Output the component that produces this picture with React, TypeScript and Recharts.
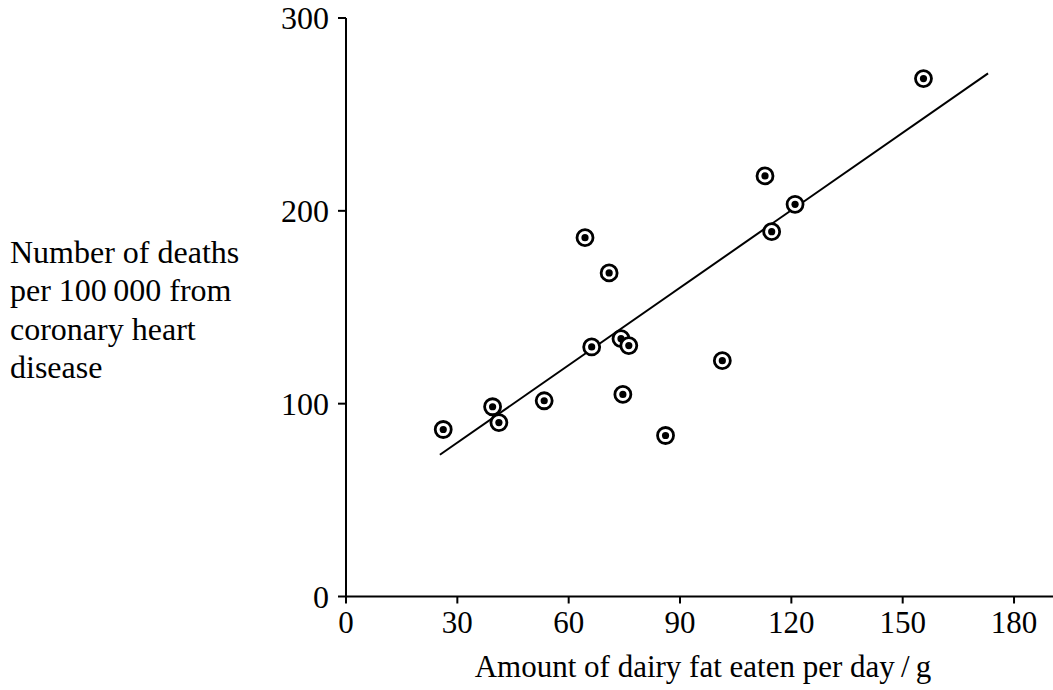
import { ReferenceLine, Scatter, ScatterChart, XAxis, YAxis } from "recharts";

// dairy fat (g per day) and deaths per 100 000, one entry per country
const fatGrams = [26.2, 39.5, 41.2, 53.4, 64.4, 66.2, 70.9, 74.1, 76.2, 74.6, 86.1, 101.4, 112.9, 114.7, 121.0, 155.6];
const deaths = [86.6, 98.4, 90.2, 101.5, 186.1, 129.4, 167.8, 133.7, 130.1, 104.8, 83.5, 122.3, 218.1, 189.2, 203.4, 268.6];

// line of best fit, drawn between these two ends
const fitX = [25.3, 173.0];
const fitY = [73.5, 271.3];

const xTicks = [0, 30, 60, 90, 120, 150, 180];
const yTicks = [0, 100, 200, 300];
const yLabelLines = ["Number of deaths", "per 100\u2009000 from", "coronary heart", "disease"];
const xLabel = "Amount of dairy fat eaten per day\u2009/\u2009g";

const FONT = '"Liberation Serif", "Times New Roman", serif';

const points = fatGrams.map((x, i) => ({ x, y: deaths[i] }));

const Ringed = (props: any) => {
  const { cx, cy } = props;
  if (cx == null || cy == null) return null;
  return (
    <g>
      <circle cx={cx} cy={cy} r={8} fill="#fff" stroke="#000" strokeWidth={2.8} />
      <circle cx={cx} cy={cy} r={3.6} fill="#000" />
    </g>
  );
};

const YTitle = () => (
  <text x={10} y={263} fontFamily={FONT} fontSize={32} fill="#000">
    {yLabelLines.map((line, i) => (
      <tspan key={line} x={10} dy={i === 0 ? 0 : 38.3}>
        {line}
      </tspan>
    ))}
  </text>
);

const XTitle = () => (
  <text x={703} y={677} textAnchor="middle" fontFamily={FONT} fontSize={31} fill="#000">
    {xLabel}
  </text>
);

export default function App() {
  return (
    <div style={{ position: "absolute", left: 0, top: 0, width: 1053, height: 690, background: "#fff" }}>
      <ScatterChart width={1053} height={690} margin={{ top: 18, right: 0, bottom: 0, left: 0 }}>
        <XAxis
          type="number"
          dataKey="x"
          domain={[0, 190.5]}
          ticks={xTicks}
          interval={0}
          allowDataOverflow
          height={93.5}
          tick={{ fontFamily: FONT, fontSize: 31, fill: "#000" }}
          tickSize={7}
          tickMargin={7}
          stroke="#000"
          strokeWidth={2}
          label={<XTitle />}
        />
        <YAxis
          type="number"
          dataKey="y"
          domain={[0, 300]}
          ticks={yTicks}
          interval={0}
          width={346}
          tick={{ fontFamily: FONT, fontSize: 32, fill: "#000" }}
          tickSize={8}
          tickMargin={9}
          stroke="#000"
          strokeWidth={2}
          label={<YTitle />}
        />
        <ReferenceLine
          segment={[
            { x: fitX[0], y: fitY[0] },
            { x: fitX[1], y: fitY[1] },
          ]}
          stroke="#000"
          strokeWidth={2}
        />
        <Scatter data={points} shape={<Ringed />} isAnimationActive={false} />
      </ScatterChart>
    </div>
  );
}
